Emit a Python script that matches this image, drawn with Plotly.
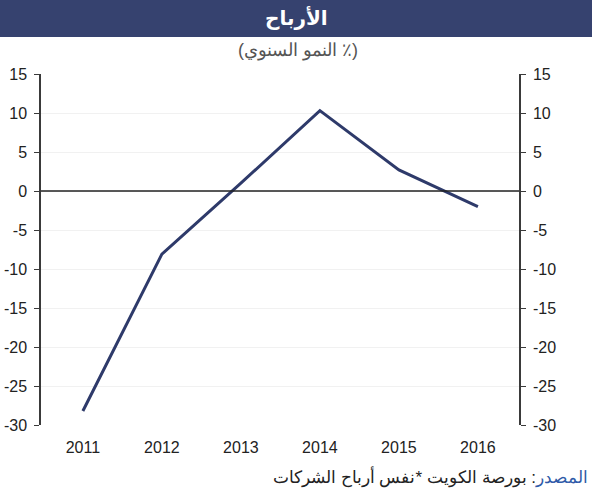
import plotly.graph_objects as go

years = ["2011", "2012", "2013", "2014", "2015", "2016"]
growth = [-28.2, -8.1, 1.0, 10.3, 2.7, -2.0]
y_ticks = [15, 10, 5, 0, -5, -10, -15, -20, -25, -30]
y_tick_text = ["15", "10", "5", "0", "-5", "-10", "-15", "-20", "-25", "-30"]

title = "الأرباح"
subtitle = "(النمو السنوي ٪)"
source_label = "المصدر"
source_text = ": بورصة الكويت *نفس أرباح الشركات"

line_color = "#2e3a6a"
bar_color = "#36426f"
axis_color = "#3a3a3a"
font_family = "Liberation Sans, Arial, sans-serif"

fig = go.Figure()
fig.add_trace(go.Scatter(x=years, y=growth, mode="lines",
                         line=dict(color=line_color, width=3), yaxis="y"))
fig.add_trace(go.Scatter(x=years, y=growth, mode="lines",
                         line=dict(color="rgba(0,0,0,0)", width=0), yaxis="y2",
                         hoverinfo="skip"))

yaxis_common = dict(range=[-30, 15], tickvals=y_ticks, ticktext=y_tick_text,
                    ticks="outside", ticklen=5, automargin=False, ticklabelstandoff=4,
                    tickcolor=axis_color, showline=True, linecolor=axis_color, linewidth=1.5,
                    tickfont=dict(family=font_family, size=16, color="#222"),
                    zeroline=False)

fig.update_layout(
    width=592, height=500,
    margin=dict(l=41, r=73, t=74, b=75),
    paper_bgcolor="white", plot_bgcolor="white",
    showlegend=False,
    font=dict(family=font_family),
    xaxis=dict(type="category", range=[-0.53, 5.52], showline=False, ticks="",
               showgrid=False, automargin=False, ticklabelstandoff=11,
               tickfont=dict(family=font_family, size=16, color="#222")),
    yaxis=dict(**yaxis_common, showgrid=True, gridcolor="#f1f1f1", gridwidth=1),
    yaxis2=dict(**yaxis_common, overlaying="y", side="right", showgrid=False),
    shapes=[
        dict(type="rect", xref="paper", yref="paper", x0=-0.1, x1=1.2,
             y0=1 + 37 / 351, y1=1 + 74 / 351 + 0.01,
             fillcolor=bar_color, line=dict(width=0), layer="below"),
        dict(type="line", xref="paper", yref="y", x0=0, x1=1, y0=0, y1=0,
             line=dict(color="#222", width=1.5)),
    ],
    annotations=[
        dict(text="<b>" + title + "</b>", xref="paper", yref="paper", x=(296 - 41) / 478,
             y=1 + (74 - 18) / 351, showarrow=False, yanchor="middle",
             font=dict(family="DejaVu Sans, Noto Sans, sans-serif", size=20, color="white")),
        dict(text=subtitle, xref="paper", yref="paper", x=(298 - 41) / 478,
             y=1 + (74 - 50) / 351, showarrow=False, yanchor="middle",
             font=dict(family=font_family, size=18, color="#555")),
        dict(text="<span style='color:#2f5aa8'>" + source_label + "</span>" + source_text,
             xref="paper", yref="paper", x=(590 - 41) / 478, xanchor="right",
             y=-(477 - 425) / 351, yanchor="middle", showarrow=False,
             font=dict(family=font_family, size=17, color="#222")),
    ],
)

fig.write_html("out.html")
